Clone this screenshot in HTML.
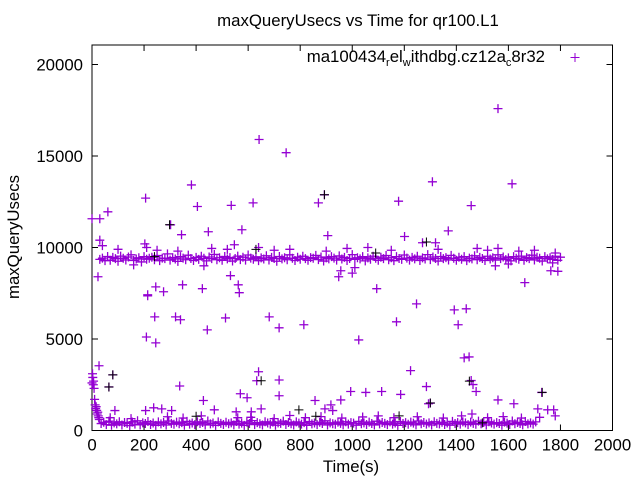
<!DOCTYPE html>
<html><head><meta charset="utf-8"><style>
html,body{margin:0;padding:0;background:#fff;}
svg{display:block;font-family:"Liberation Sans",sans-serif;}
</style></head><body>
<svg id="chart" width="640" height="480" viewBox="0 0 640 480" xmlns="http://www.w3.org/2000/svg">
<rect width="640" height="480" fill="#fff"/>
<text x="358" y="26" font-size="16.8" text-anchor="middle">maxQueryUsecs vs Time for qr100.L1</text>
<text x="0" y="0" font-size="16.8" text-anchor="middle" transform="translate(19,237) rotate(-90)">maxQueryUsecs</text>
<text x="351" y="472" font-size="16.8" text-anchor="middle">Time(s)</text>
<g id="axes"></g>
<g id="marks"></g>
<g>
<text x="545" y="62" font-size="16.8" text-anchor="end">ma100434<tspan font-size="11" dy="4">r</tspan><tspan dy="-4">el</tspan><tspan font-size="11" dy="4">w</tspan><tspan dy="-4">ithdbg.cz12a</tspan><tspan font-size="11" dy="4">c</tspan><tspan dy="-4">8r32</tspan></text>
<path d="M570.5 57.5h9M575 53v9" stroke="#9400d3" stroke-width="1"/>
</g>
</svg>
<script>
const xTicks=[0,200,400,600,800,1000,1200,1400,1600,1800,2000];
const yTicks=[0,5000,10000,15000,20000];
const bandStart=30, bandStep=10;
const upperBand=[9350,9420,9280,9510,9300,9460,9390,9250,9530,9410,
9320,9480,9600,9290,9370,9440,9210,9500,9360,9410,
9470,9330,9560,9280,9420,9390,9650,9310,9450,9370,
9240,9500,9420,9330,9580,9400,9290,9460,9350,9520,
9410,9270,9480,9390,9620,9330,9440,9300,9510,9380,
9450,9260,9400,9530,9340,9470,9310,9590,9420,9360,
9490,9280,9430,9370,9550,9320,9460,9400,9250,9510,
9380,9440,9330,9600,9410,9290,9470,9360,9520,9390,
9300,9450,9410,9570,9340,9480,9260,9430,9380,9500,
9420,9310,9540,9370,9460,9290,9400,9610,9350,9440,
9380,9500,9270,9430,9360,9520,9410,9300,9470,9390,
9560,9330,9440,9280,9500,9400,9350,9590,9420,9310,
9460,9380,9520,9290,9430,9370,9610,9340,9480,9400,
9260,9510,9390,9450,9320,9570,9410,9300,9470,9360,
9500,9280,9420,9380,9550,9330,9460,9400,9290,9520,
9370,9440,9310,9600,9390,9480,9340,9430,9270,9500,
9410,9360,9530,9300,9450,9390,9580,9320,9470,9410,
9260,9500,9380,9440,9350,9520,9300,9470];
const lowerBand=[380,450,320,510,290,420,360,480,300,440,
390,270,460,350,530,310,420,380,490,330,
410,280,470,360,440,300,520,390,340,460,
370,430,290,500,350,410,320,480,380,440,
300,520,360,410,280,470,390,330,450,370,
420,310,490,350,400,280,460,380,540,320,
430,370,300,480,410,350,460,290,420,390,
510,330,440,370,300,470,400,350,430,280,
490,360,410,320,450,380,530,300,420,370,
340,460,390,310,480,350,430,400,290,500,
370,420,330,460,380,300,510,360,440,390,
320,470,350,410,280,490,380,430,340,460,
400,310,520,370,440,350,420,300,480,390,
360,450,330,410,290,500,380,430,350,470,
420,320,460,390,340,510,370,440,300,480,
410,350,430,380,290,460,400,330,520,370,
440,380,310,490,360,420,350,470];
const extraTimes=[0,2,3,5,6,8,10,12,14,16,18,20,22,24,26,28,
40,100,210,250,330,460,520,640,700,760,900,980,1060,1150,1330,1480,1520,1560,1640,1700,1780,1790,160,430,1000,1010,1550,1600,
70,150,290,350,420,560,610,700,760,820,880,960,1040,1100,1160,1250,1350,1420,1460,1520,1580,1650,1720,1780,
0,30,61,23,30,206,214,209,245,214,245,275,241,321,340,348,424,443,513,532,562,566,681,719,814,382,405,535,619,870,893,302,344,447,576,547,906,203,948,956,
642,746,1560,1614,1308,1178,1457,1201,1369,1270,1320,1094,1025,1170,1247,1392,1407,1438,1430,1449,1663,1763,1770,
27,80,65,337,640,633,719,719,570,596,428,857,956,88,206,237,268,306,470,554,612,650,895,918,925,
1224,1285,1113,994,1052,1186,1457,1464,1476,1728,1293,1300,1560,1621,1713,1751,1774];
const extraValues=[2600,3100,2900,2500,2700,2300,1700,1400,1200,1300,1100,900,1000,800,700,600,
10100,9900,10000,9850,9800,9950,9900,10000,9850,9900,9800,9950,10000,9850,9900,9950,9850,9950,9800,9850,9700,8700,9050,9000,8600,8900,9000,9100,
700,650,750,680,800,700,720,650,820,700,760,680,740,800,700,750,680,800,900,700,760,680,720,800,
11570,11570,11950,8400,10400,12700,7420,5110,4790,7360,7850,7580,6210,6210,6050,7960,7750,5500,6150,8460,7960,7530,6210,5610,5780,13420,12240,12300,12440,12440,12880,11240,10700,10860,10970,10150,10650,10200,8400,8730,
15900,15180,17590,13480,13590,12530,12290,10600,10910,10260,10260,7750,4950,5940,6920,6590,5780,6650,3970,4020,8080,8730,9160,
3540,3040,2380,2430,3210,2720,2760,1900,2010,1790,1640,1640,1670,1090,1090,1240,1180,1090,1130,1020,1020,1180,1180,1400,1090,
3270,2400,2130,2130,2080,1970,2730,2510,2130,2080,1460,1500,1670,1460,1180,1130,1130];
const blackTimes=[80,65,298,893,650,795,1300,1450,1285,630,1090,1730,1180,860,400,240,1500];
const blackValues=[3040,2380,11240,12880,2720,1130,1500,2700,10300,9900,9700,2080,800,780,780,9500,420];

const L=92,R=612.5,B=430.5,T=45;
const xs=t=>L+(t/2000)*(R-L);
const ys=v=>B-(v/5000)*91.5;
const NS="http://www.w3.org/2000/svg";
const axes=document.getElementById('axes');
const marks=document.getElementById('marks');
function mk(tag,attrs,parent){const e=document.createElementNS(NS,tag);for(const k in attrs)e.setAttribute(k,attrs[k]);parent.appendChild(e);return e;}
let d='';
xTicks.forEach(t=>{const x=xs(t);d+=`M${x} ${B}v-6M${x} ${T}v6`;
 const tx=mk('text',{x:x,y:B+20,'font-size':16.8,'text-anchor':'middle'},axes);tx.textContent=t;
 
 });
yTicks.forEach(v=>{const y=ys(v);d+=`M${L} ${y}h6M${R} ${y}h-6`;
 const tx=mk('text',{x:L-9,y:y+6,'font-size':16.8,'text-anchor':'end'},axes);tx.textContent=v;
 
 });
const tk=mk('path',{d:d,stroke:'#000','stroke-width':1,fill:'none'},axes);


const fr=mk('rect',{x:L,y:T,width:R-L,height:B-T,fill:'none',stroke:'#000','stroke-width':1},axes);


function plus(t,v){const x=xs(t),y=ys(v);return `M${x-4.5} ${y}h9M${x} ${y-4.5}v9`;}
let pv='';
upperBand.forEach((v,i)=>{pv+=plus(bandStart+i*bandStep,v);});
lowerBand.forEach((v,i)=>{pv+=plus(bandStart+i*bandStep+5,v);});
extraTimes.forEach((t,i)=>{pv+=plus(t,extraValues[i]);});
const sv=mk('path',{d:pv,stroke:'#9400d3','stroke-width':1.3,fill:'none'},marks);


let pb='';
blackTimes.forEach((t,i)=>{pb+=plus(t,blackValues[i]);});
const sb=mk('path',{d:pb,stroke:'#000','stroke-width':1,fill:'none'},marks);


</script>
</body></html>
